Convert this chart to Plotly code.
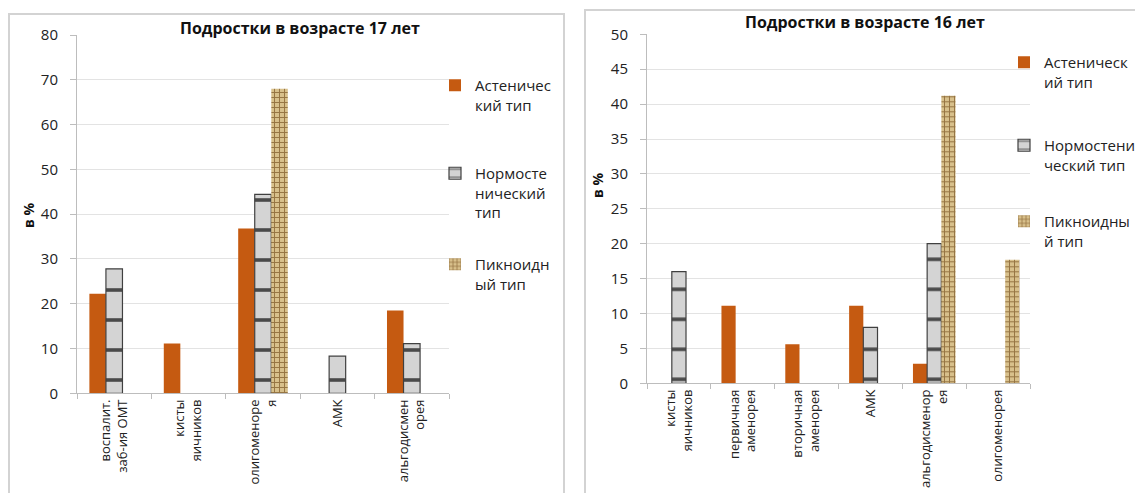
import plotly.graph_objects as go

W, H = 1135, 493

# ---- data ----
cats17 = ["воспалит.<br>заб-ия ОМТ", "кисты<br>яичников", "олигоменоре<br>я", "АМК", "альгодисмен<br>орея"]
ast17 = [22.2, 11.1, 36.8, None, 18.5]
norm17 = [27.8, None, 44.4, 8.3, 11.1]
pik17 = [None, None, 68.0, None, None]

cats16 = ["кисты<br>яичников", "первичная<br>аменорея", "вторичная<br>аменорея", "АМК", "альгодисменор<br>ея", "олигоменорея"]
ast16 = [None, 11.1, 5.6, 11.1, 2.8, None]
norm16 = [16.0, None, None, 8.0, 20.0, None]
pik16 = [None, None, None, None, 41.2, 17.7]

names17 = ["Астеничес<br>кий тип", "Нормосте<br>нический<br>тип", "Пикноидн<br>ый тип"]
names16 = ["Астеническ<br>ий тип", "Нормостени<br>ческий тип", "Пикноидны<br>й тип"]

FONT = "Open Sans"
ORANGE = "#C55A11"


def px(x):
    return x / W


def py(y):
    return (H - y) / H


def styles(i):
    if i == 0:
        return dict(color=ORANGE, line=dict(width=0))
    if i == 1:
        return dict(color="#cfcfcf", line=dict(color="#404040", width=1.2),
                    pattern=dict(shape="-", fgcolor="#4a4a4a", bgcolor="#d4d4d4",
                                 size=30, solidity=0.12, fillmode="replace"))
    return dict(color="#c9ad74", line=dict(width=0),
                pattern=dict(shape="+", fgcolor="#957442", bgcolor="#d8c08b",
                             size=5, solidity=0.35, fillmode="replace"))


fig = go.Figure()

series17 = [ast17, norm17, pik17]
series16 = [ast16, norm16, pik16]
leg17 = ["legend", "legend2", "legend3"]
leg16 = ["legend4", "legend5", "legend6"]

for i, vals in enumerate(series17):
    fig.add_trace(go.Bar(x=cats17, y=vals, name=names17[i], marker=styles(i),
                         xaxis="x", yaxis="y", legend=leg17[i], hoverinfo="skip"))
for i, vals in enumerate(series16):
    fig.add_trace(go.Bar(x=cats16, y=vals, name=names16[i], marker=styles(i),
                         xaxis="x2", yaxis="y2", legend=leg16[i], hoverinfo="skip"))

AX = "#bdbdbd"
GRID = "#e3e3e3"
tickfont = dict(family=FONT, size=15, color="#222")
xfont = dict(family=FONT, size=13, color="#222")

common_x = dict(type="category", showline=True, linecolor=AX, linewidth=1,
                ticks="outside", tickson="boundaries", ticklen=5, tickcolor=AX,
                tickangle=-90, tickfont=xfont, showgrid=False, zeroline=False,
                fixedrange=True)
common_y = dict(showline=True, linecolor=AX, linewidth=1, ticks="outside",
                ticklen=6, tickcolor=AX, showgrid=True, gridcolor=GRID,
                gridwidth=1, zeroline=False, tickfont=tickfont,
                ticklabelstandoff=9, fixedrange=True)

legend_common = dict(font=dict(family=FONT, size=15, color="#222"),
                     bgcolor="rgba(0,0,0,0)", borderwidth=0, xanchor="left",
                     yanchor="top", valign="top", itemclick=False,
                     itemdoubleclick=False, tracegroupgap=0)

fig.update_layout(
    width=W, height=H,
    margin=dict(l=0, r=0, t=0, b=0, autoexpand=False),
    paper_bgcolor="white", plot_bgcolor="white",
    barmode="group", bargap=0.333, bargroupgap=0,
    showlegend=True,
    xaxis=dict(domain=[px(77), px(449)], anchor="y", **common_x),
    yaxis=dict(domain=[py(393.3), py(35)], anchor="x", range=[0, 80], dtick=10, **common_y),
    xaxis2=dict(domain=[px(647), px(1030)], anchor="y2", **common_x),
    yaxis2=dict(domain=[py(383.3), py(34.3)], anchor="x2", range=[0, 50], dtick=5, **common_y),
    legend=dict(x=px(435), y=py(69), **legend_common),
    legend2=dict(x=px(435), y=py(157), **legend_common),
    legend3=dict(x=px(435), y=py(248), **legend_common),
    legend4=dict(x=px(1004), y=py(46), **legend_common),
    legend5=dict(x=px(1004), y=py(129), **legend_common),
    legend6=dict(x=px(1004), y=py(205), **legend_common),
)

# chart frames
fig.add_shape(type="rect", xref="paper", yref="paper",
              x0=px(9), x1=px(564), y0=-0.2, y1=py(14),
              line=dict(color="#d3d3d3", width=2), fillcolor="rgba(0,0,0,0)", layer="below")
fig.add_shape(type="rect", xref="paper", yref="paper",
              x0=px(585), x1=1.2, y0=-0.2, y1=py(10),
              line=dict(color="#d3d3d3", width=2), fillcolor="rgba(0,0,0,0)", layer="below")

# titles
fig.add_annotation(text="<b>Подростки в возрасте 17 лет</b>", xref="paper", yref="paper",
                   x=px(300), y=py(28), xanchor="center", yanchor="middle", showarrow=False,
                   font=dict(family=FONT, size=16, color="#111"))
fig.add_annotation(text="<b>Подростки в возрасте 16 лет</b>", xref="paper", yref="paper",
                   x=px(865), y=py(22), xanchor="center", yanchor="middle", showarrow=False,
                   font=dict(family=FONT, size=16, color="#111"))
# y-axis titles
fig.add_annotation(text="<b>в %</b>", xref="paper", yref="paper", textangle=-90,
                   x=px(28), y=py(216), xanchor="center", yanchor="middle", showarrow=False,
                   font=dict(family=FONT, size=14, color="#111"))
fig.add_annotation(text="<b>в %</b>", xref="paper", yref="paper", textangle=-90,
                   x=px(597), y=py(186), xanchor="center", yanchor="middle", showarrow=False,
                   font=dict(family=FONT, size=14, color="#111"))

fig.write_html("out.html", config={"displayModeBar": False})
